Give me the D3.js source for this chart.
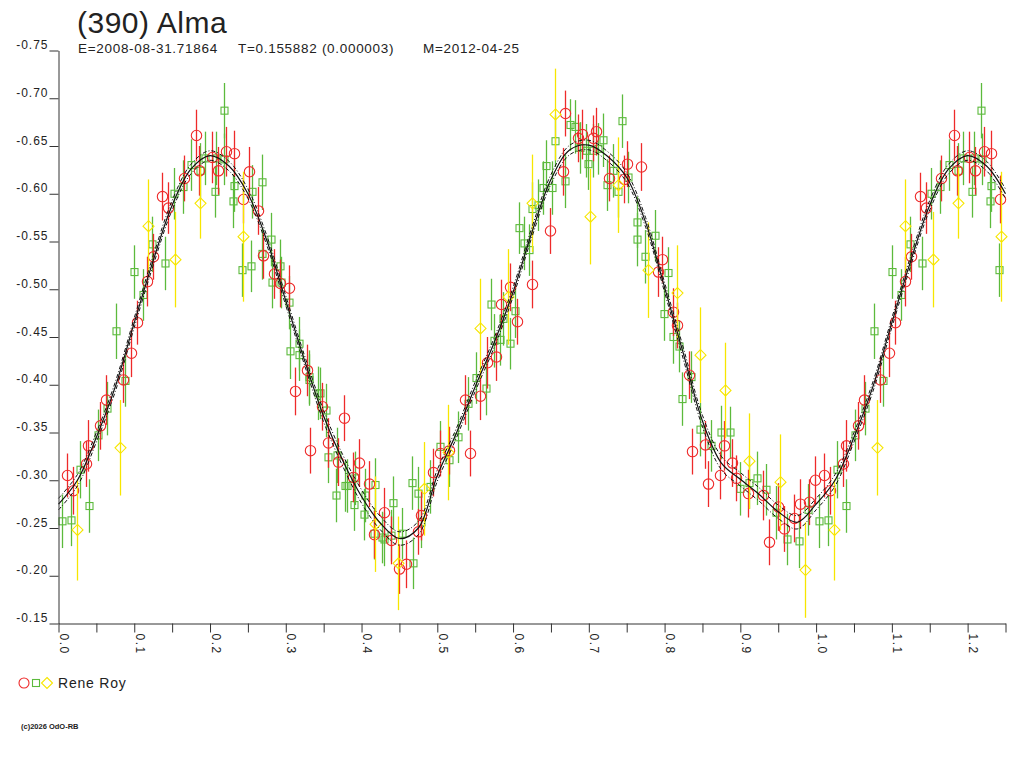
<!DOCTYPE html>
<html>
<head>
<meta charset="utf-8">
<title>(390) Alma</title>
<script src="https://cdn.jsdelivr.net/npm/d3@7"></script>
<style>
  html, body { margin: 0; padding: 0; background: #fff; }
  svg { display: block; font-family: 'Liberation Sans', Arial, sans-serif; }
</style>
</head>
<body>
<svg id="chart" width="1024" height="768"></svg>
<script>
'use strict';

// Observations folded on the period: [phase, magnitude, error]
var redObs = [
  [0.011, -0.305, 0.023], [0.019, -0.289, 0.025], [0.036, -0.317, 0.024], [0.039, -0.336, 0.027],
  [0.055, -0.357, 0.025], [0.063, -0.384, 0.026], [0.085, -0.405, 0.024], [0.096, -0.433, 0.025],
  [0.104, -0.465, 0.023], [0.117, -0.508, 0.026], [0.125, -0.534, 0.024], [0.137, -0.597, 0.025],
  [0.145, -0.585, 0.027], [0.165, -0.616, 0.024], [0.182, -0.661, 0.027], [0.186, -0.624, 0.026],
  [0.202, -0.638, 0.027], [0.210, -0.624, 0.025], [0.221, -0.644, 0.026], [0.231, -0.642, 0.024],
  [0.243, -0.594, 0.025], [0.251, -0.623, 0.026], [0.263, -0.582, 0.025], [0.270, -0.535, 0.024],
  [0.284, -0.516, 0.026], [0.293, -0.506, 0.025], [0.304, -0.501, 0.024], [0.312, -0.393, 0.025],
  [0.328, -0.415, 0.027], [0.332, -0.331, 0.024], [0.348, -0.377, 0.025], [0.356, -0.339, 0.026],
  [0.369, -0.319, 0.025], [0.377, -0.365, 0.024], [0.389, -0.303, 0.026], [0.397, -0.318, 0.025],
  [0.410, -0.296, 0.024], [0.416, -0.243, 0.025], [0.430, -0.266, 0.026], [0.439, -0.237, 0.025],
  [0.449, -0.207, 0.026], [0.459, -0.212, 0.025], [0.474, -0.246, 0.024], [0.479, -0.263, 0.026],
  [0.494, -0.308, 0.025], [0.503, -0.328, 0.024], [0.515, -0.331, 0.025], [0.536, -0.384, 0.026],
  [0.543, -0.328, 0.024], [0.556, -0.388, 0.025], [0.565, -0.423, 0.027], [0.577, -0.429, 0.025],
  [0.584, -0.484, 0.026], [0.596, -0.502, 0.025], [0.605, -0.466, 0.024], [0.625, -0.505, 0.025],
  [0.649, -0.561, 0.024], [0.666, -0.623, 0.025], [0.669, -0.684, 0.024], [0.686, -0.658, 0.025],
  [0.691, -0.662, 0.026], [0.705, -0.658, 0.024], [0.710, -0.665, 0.025], [0.726, -0.616, 0.024],
  [0.747, -0.615, 0.025], [0.751, -0.631, 0.024], [0.769, -0.628, 0.025], [0.791, -0.518, 0.026],
  [0.796, -0.531, 0.024], [0.811, -0.476, 0.025], [0.817, -0.462, 0.024], [0.832, -0.410, 0.025],
  [0.836, -0.330, 0.024], [0.853, -0.337, 0.025], [0.857, -0.296, 0.024], [0.873, -0.305, 0.025],
  [0.878, -0.336, 0.026], [0.889, -0.318, 0.025], [0.894, -0.302, 0.024], [0.910, -0.286, 0.025],
  [0.930, -0.284, 0.026], [0.938, -0.235, 0.024], [0.950, -0.272, 0.025], [0.957, -0.249, 0.024],
  [0.971, -0.260, 0.025], [0.979, -0.275, 0.026], [0.991, -0.277, 0.024], [0.999, -0.300, 0.025]
];

var greenObs = [
  [0.004, -0.257, 0.028], [0.016, -0.258, 0.027], [0.028, -0.311, 0.030], [0.040, -0.273, 0.028],
  [0.052, -0.347, 0.027], [0.064, -0.375, 0.028], [0.076, -0.456, 0.029], [0.088, -0.404, 0.027],
  [0.100, -0.518, 0.028], [0.112, -0.494, 0.027], [0.124, -0.547, 0.029], [0.140, -0.527, 0.028],
  [0.152, -0.600, 0.027], [0.164, -0.607, 0.028], [0.175, -0.630, 0.027], [0.187, -0.624, 0.029],
  [0.194, -0.637, 0.028], [0.206, -0.602, 0.027], [0.208, -0.637, 0.028], [0.218, -0.687, 0.029],
  [0.219, -0.636, 0.027], [0.230, -0.592, 0.028], [0.231, -0.608, 0.027], [0.242, -0.520, 0.028],
  [0.254, -0.524, 0.027], [0.255, -0.602, 0.028], [0.268, -0.612, 0.029], [0.268, -0.537, 0.027],
  [0.280, -0.552, 0.028], [0.282, -0.507, 0.027], [0.292, -0.524, 0.028], [0.294, -0.507, 0.027],
  [0.304, -0.486, 0.028], [0.306, -0.435, 0.029], [0.317, -0.443, 0.028], [0.318, -0.431, 0.027],
  [0.330, -0.408, 0.028], [0.331, -0.405, 0.027], [0.342, -0.391, 0.028], [0.345, -0.391, 0.027],
  [0.353, -0.373, 0.028], [0.356, -0.324, 0.027], [0.366, -0.284, 0.028], [0.367, -0.326, 0.029],
  [0.378, -0.294, 0.027], [0.381, -0.294, 0.028], [0.390, -0.274, 0.027], [0.391, -0.302, 0.028],
  [0.403, -0.264, 0.027], [0.404, -0.284, 0.028], [0.417, -0.244, 0.027], [0.418, -0.295, 0.028],
  [0.427, -0.240, 0.027], [0.430, -0.238, 0.028], [0.439, -0.242, 0.027], [0.442, -0.276, 0.028],
  [0.453, -0.244, 0.027], [0.466, -0.297, 0.028], [0.468, -0.213, 0.027], [0.474, -0.286, 0.028],
  [0.478, -0.256, 0.027], [0.491, -0.293, 0.028], [0.503, -0.335, 0.027], [0.515, -0.321, 0.028],
  [0.527, -0.345, 0.027], [0.540, -0.380, 0.028], [0.551, -0.407, 0.027], [0.564, -0.396, 0.028],
  [0.571, -0.484, 0.027], [0.575, -0.446, 0.028], [0.583, -0.447, 0.027], [0.587, -0.469, 0.028],
  [0.596, -0.443, 0.027], [0.603, -0.477, 0.028], [0.608, -0.564, 0.027], [0.615, -0.548, 0.028],
  [0.621, -0.541, 0.027], [0.625, -0.584, 0.028], [0.633, -0.588, 0.027], [0.639, -0.606, 0.028],
  [0.644, -0.629, 0.027], [0.651, -0.606, 0.028], [0.656, -0.655, 0.027], [0.668, -0.613, 0.028],
  [0.675, -0.672, 0.027], [0.682, -0.670, 0.028], [0.688, -0.648, 0.027], [0.696, -0.645, 0.028],
  [0.699, -0.631, 0.027], [0.706, -0.645, 0.028], [0.712, -0.647, 0.027], [0.719, -0.656, 0.028],
  [0.724, -0.609, 0.027], [0.732, -0.624, 0.028], [0.739, -0.602, 0.027], [0.744, -0.676, 0.028],
  [0.752, -0.617, 0.027], [0.763, -0.552, 0.028], [0.764, -0.570, 0.027], [0.774, -0.534, 0.028],
  [0.787, -0.556, 0.027], [0.799, -0.474, 0.028], [0.804, -0.517, 0.027], [0.811, -0.450, 0.028],
  [0.819, -0.440, 0.027], [0.823, -0.385, 0.028], [0.835, -0.408, 0.027], [0.847, -0.353, 0.028],
  [0.861, -0.336, 0.027], [0.875, -0.350, 0.028], [0.887, -0.350, 0.027], [0.899, -0.291, 0.028],
  [0.911, -0.297, 0.027], [0.922, -0.302, 0.028], [0.934, -0.290, 0.027], [0.947, -0.266, 0.028],
  [0.962, -0.238, 0.027], [0.977, -0.236, 0.028], [0.989, -0.269, 0.027]
];

var yellowObs = [
  [0.024, -0.248, 0.053], [0.081, -0.334, 0.050], [0.118, -0.566, 0.049], [0.154, -0.531, 0.050],
  [0.187, -0.590, 0.037], [0.244, -0.555, 0.068], [0.418, -0.254, 0.050], [0.448, -0.213, 0.049],
  [0.482, -0.291, 0.049], [0.514, -0.329, 0.050], [0.557, -0.459, 0.052], [0.593, -0.492, 0.050],
  [0.625, -0.590, 0.051], [0.655, -0.683, 0.048], [0.702, -0.576, 0.050], [0.738, -0.609, 0.050],
  [0.778, -0.520, 0.050], [0.816, -0.496, 0.050], [0.847, -0.431, 0.050], [0.880, -0.394, 0.050],
  [0.911, -0.320, 0.050], [0.952, -0.298, 0.050], [0.986, -0.206, 0.050]
];

// Fitted light curve: [phase, magnitude] and half width of its band
var curveMid = [
  [0.000, -0.275], [0.025, -0.300], [0.050, -0.345], [0.075, -0.398], [0.100, -0.465],
  [0.125, -0.530], [0.150, -0.588], [0.175, -0.626], [0.200, -0.640], [0.225, -0.629],
  [0.250, -0.600], [0.275, -0.551], [0.300, -0.488], [0.325, -0.425], [0.350, -0.367],
  [0.375, -0.321], [0.400, -0.283], [0.425, -0.255], [0.450, -0.239], [0.475, -0.250],
  [0.500, -0.305], [0.525, -0.349], [0.550, -0.398], [0.575, -0.444], [0.600, -0.497],
  [0.625, -0.560], [0.650, -0.615], [0.675, -0.646], [0.700, -0.651], [0.725, -0.639],
  [0.750, -0.617], [0.775, -0.570], [0.800, -0.502], [0.825, -0.432], [0.850, -0.362],
  [0.875, -0.318], [0.900, -0.301], [0.925, -0.285], [0.950, -0.267], [0.975, -0.256],
  [1.000, -0.275]
];
var curveBand = [
  0.006, 0.006, 0.005, 0.005, 0.005, 0.005, 0.005, 0.005, 0.005, 0.005,
  0.005, 0.005, 0.005, 0.005, 0.006, 0.006, 0.007, 0.007, 0.007, 0.007,
  0.006, 0.005, 0.005, 0.005, 0.005, 0.005, 0.005, 0.005, 0.005, 0.005,
  0.005, 0.005, 0.005, 0.006, 0.006, 0.007, 0.007, 0.007, 0.007, 0.007,
  0.006
];

var xTicks = [0, 0.05, 0.1, 0.15, 0.2, 0.25, 0.3, 0.35, 0.4, 0.45, 0.5, 0.55, 0.6,
  0.65, 0.7, 0.75, 0.8, 0.85, 0.9, 0.95, 1.0, 1.05, 1.1, 1.15, 1.2, 1.25];
var xTickLabels = ['0.0', '', '0.1', '', '0.2', '', '0.3', '', '0.4', '', '0.5', '', '0.6',
  '', '0.7', '', '0.8', '', '0.9', '', '1.0', '', '1.1', '', '1.2', ''];
var yTicks = [-0.75, -0.70, -0.65, -0.60, -0.55, -0.50, -0.45, -0.40, -0.35, -0.30,
  -0.25, -0.20, -0.15];
var yTickLabels = ['-0.75', '-0.70', '-0.65', '-0.60', '-0.55', '-0.50', '-0.45', '-0.40',
  '-0.35', '-0.30', '-0.25', '-0.20', '-0.15'];

var titleText = '(390) Alma';
var infoTexts = ['E=2008-08-31.71864', 'T=0.155882 (0.000003)', 'M=2012-04-25'];
var observerName = 'Rene Roy';
var creditText = '(c)2026 OdO-RB';

var styles = {
  red: '#ee2a2a',
  green: '#5cba3c',
  yellow: '#f7e600',
  ink: '#222'
};

var svg = d3.select('#chart');
var x = d3.scaleLinear().domain([0, 1.25]).range([58.5, 1005.5]);
var y = d3.scaleLinear().domain([-0.75, -0.15]).range([50.5, 623.5]);
var phaseMax = x.domain()[1];

/**
 * Repeats the first part of the cycle after phase 1, as far as the axis goes.
 * @param  {Array} rows  [phase, ...] rows
 * @param  {boolean} skipZero  do not copy phase 0 (it already sits at 1.0)
 * @return {Array}
 */
function wrapPhase(rows, skipZero) {
  var out = rows.slice();
  rows.forEach(function(d) {
    if (skipZero && d[0] === 0) {
      return;
    }
    if (d[0] + 1 <= phaseMax + 1e-9) {
      out.push([d[0] + 1].concat(d.slice(1)));
    }
  });
  return out;
}

/**
 * Marker shapes, centred at 0,0
 */
var shapes = {
  circle: function(sel) {
    sel.append('circle').attr('r', 5.2);
  },
  square: function(sel) {
    sel.append('rect').attr('x', -3.5).attr('y', -3.5).attr('width', 7).attr('height', 7);
  },
  diamond: function(sel) {
    sel.append('path').attr('d', 'M0,-5.5L5.5,0L0,5.5L-5.5,0Z');
  }
};

/**
 * Draws one observation series: error bars then open markers
 */
function drawSeries(rows, color, shape) {
  var data = wrapPhase(rows, false);
  var g = svg.append('g').attr('class', 'series');

  g.selectAll('line.err')
    .data(data)
    .enter().append('line')
    .attr('class', 'err')
    .attr('x1', function(d) { return Math.round(x(d[0])) + 0.5; })
    .attr('x2', function(d) { return Math.round(x(d[0])) + 0.5; })
    .attr('y1', function(d) { return y(d[1] - d[2]); })
    .attr('y2', function(d) { return y(d[1] + d[2]); })
    .attr('stroke', color)
    .attr('stroke-width', 1.3);

  var marks = g.selectAll('g.mark')
    .data(data)
    .enter().append('g')
    .attr('class', 'mark')
    .attr('transform', function(d) {
      return 'translate(' + (Math.round(x(d[0])) + 0.5) + ',' + y(d[1]) + ')';
    });
  shapes[shape](marks);
  marks.selectAll('*')
    .attr('fill', 'none')
    .attr('stroke', color)
    .attr('stroke-width', 1.1);
}

drawSeries(greenObs, styles.green, 'square');
drawSeries(redObs, styles.red, 'circle');
drawSeries(yellowObs, styles.yellow, 'diamond');

// fitted curve with its band
var curveRows = wrapPhase(curveMid.map(function(d, i) {
  return [d[0], d[1], curveBand[i]];
}), true);

var line = d3.line().curve(d3.curveCatmullRom.alpha(0.5));
var curveG = svg.append('g').attr('class', 'fit').attr('fill', 'none').attr('stroke', '#111');

curveG.append('path')
  .attr('d', line(curveRows.map(function(d) { return [x(d[0]), y(d[1] - d[2])]; })))
  .attr('stroke-width', 1)
  .attr('stroke-dasharray', '4,2,1,2');
curveG.append('path')
  .attr('d', line(curveRows.map(function(d) { return [x(d[0]), y(d[1])]; })))
  .attr('stroke-width', 1.2);
curveG.append('path')
  .attr('d', line(curveRows.map(function(d) { return [x(d[0]), y(d[1] + d[2])]; })))
  .attr('stroke-width', 1)
  .attr('stroke-dasharray', '4,2,1,2');

// axes
var yAxis = d3.axisLeft(y)
  .tickValues(yTicks)
  .tickSize(9)
  .tickSizeOuter(0)
  .tickFormat(function(d, i) { return yTickLabels[i]; });

var yG = svg.append('g')
  .attr('class', 'y-axis')
  .attr('transform', 'translate(' + x(0) + ',0)')
  .call(yAxis);

yG.selectAll('text')
  .attr('x', -10)
  .attr('dy', '-2')
  .style('letter-spacing', '1px');

var xAxis = d3.axisBottom(x)
  .tickValues(xTicks)
  .tickSize(9)
  .tickSizeOuter(0)
  .tickFormat(function(d, i) { return xTickLabels[i]; });

var xG = svg.append('g')
  .attr('class', 'x-axis')
  .attr('transform', 'translate(0,' + y(-0.15) + ')')
  .call(xAxis);

xG.selectAll('text')
  .attr('x', null)
  .attr('y', null)
  .attr('dy', null)
  .attr('text-anchor', 'start')
  .attr('transform', 'translate(1,10) rotate(90)')
  .style('letter-spacing', '1.5px');

[yG, xG].forEach(function(g) {
  g.attr('font-family', null).attr('font-size', 12);
  g.selectAll('.domain, line').attr('stroke', '#333').attr('stroke-width', 1);
  g.selectAll('text').attr('fill', styles.ink);
});

// header
svg.append('text')
  .attr('x', 77)
  .attr('y', 33)
  .attr('font-size', 30)
  .attr('fill', styles.ink)
  .style('letter-spacing', '0.5px')
  .text(titleText);

var infoX = [78, 238, 423];
svg.selectAll('text.info')
  .data(infoTexts)
  .enter().append('text')
  .attr('class', 'info')
  .attr('x', function(d, i) { return infoX[i]; })
  .attr('y', 53)
  .attr('font-size', 13.5)
  .attr('fill', styles.ink)
  .style('letter-spacing', '0.7px')
  .text(function(d) { return d; });

// legend
var legend = svg.append('g').attr('class', 'legend').attr('fill', 'none').attr('stroke-width', 1.1);
legend.append('circle').attr('cx', 24).attr('cy', 683).attr('r', 5).attr('stroke', styles.red);
legend.append('rect').attr('x', 32.5).attr('y', 679.5).attr('width', 7).attr('height', 7)
  .attr('stroke', styles.green);
legend.append('path').attr('d', 'M47,677.5L52.5,683L47,688.5L41.5,683Z').attr('stroke', styles.yellow);
legend.append('text')
  .attr('x', 58)
  .attr('y', 688)
  .attr('font-size', 14)
  .attr('fill', styles.ink)
  .attr('stroke', 'none')
  .style('letter-spacing', '0.8px')
  .text(observerName);

svg.append('text')
  .attr('x', 21)
  .attr('y', 729)
  .attr('font-size', 7.5)
  .attr('font-weight', 'bold')
  .attr('fill', styles.ink)
  .text(creditText);
</script>
</body>
</html>
